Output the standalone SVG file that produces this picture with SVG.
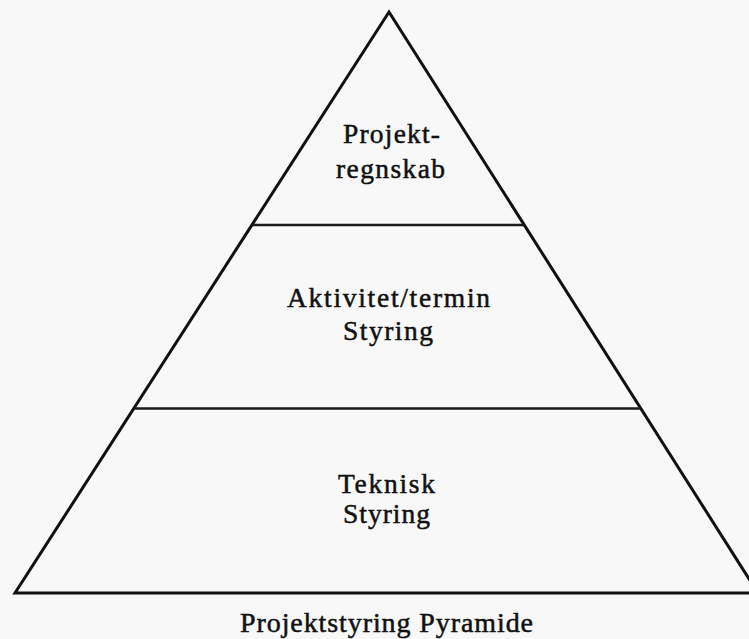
<svg xmlns="http://www.w3.org/2000/svg" width="749" height="639" viewBox="0 0 749 639">
  <style>
    .edge { fill: none; stroke: #111; stroke-width: 3; stroke-linejoin: miter; }
    .tier { stroke: #1a1a1a; stroke-width: 2.6; }
    .lbl { font-family: "Liberation Serif", "Times New Roman", serif; font-size: 27.5px; fill: #111; text-anchor: middle; stroke: #111; stroke-width: 0.5; }
    .cap { font-size: 28px; }
  </style>
  <rect width="749" height="639" fill="#f8f8f8"/>

  <g id="connectors">
    <!-- pyramid outline; right base corner runs past the canvas edge -->
    <polygon class="edge" points="389,12 15,593 758,593"/>
    <!-- tier dividers -->
    <line class="tier" x1="252" y1="225" x2="524" y2="225"/>
    <line class="tier" x1="134" y1="408.5" x2="640" y2="408.5"/>
  </g>

  <g id="tier-top">
    <text class="lbl" x="391.5" y="143" textLength="97" lengthAdjust="spacing">Projekt-</text>
    <text class="lbl" x="390.5" y="178" textLength="109" lengthAdjust="spacing">regnskab</text>
  </g>

  <g id="tier-middle">
    <text class="lbl" x="388.5" y="307" textLength="203" lengthAdjust="spacing">Aktivitet/termin</text>
    <text class="lbl" x="388" y="340" textLength="90" lengthAdjust="spacing">Styring</text>
  </g>

  <g id="tier-bottom">
    <text class="lbl" x="386.5" y="493" textLength="97" lengthAdjust="spacing">Teknisk</text>
    <text class="lbl" x="386.5" y="523" textLength="87" lengthAdjust="spacing">Styring</text>
  </g>

  <g id="caption">
    <text class="lbl cap" x="386.5" y="632" textLength="293" lengthAdjust="spacing">Projektstyring Pyramide</text>
  </g>
</svg>
